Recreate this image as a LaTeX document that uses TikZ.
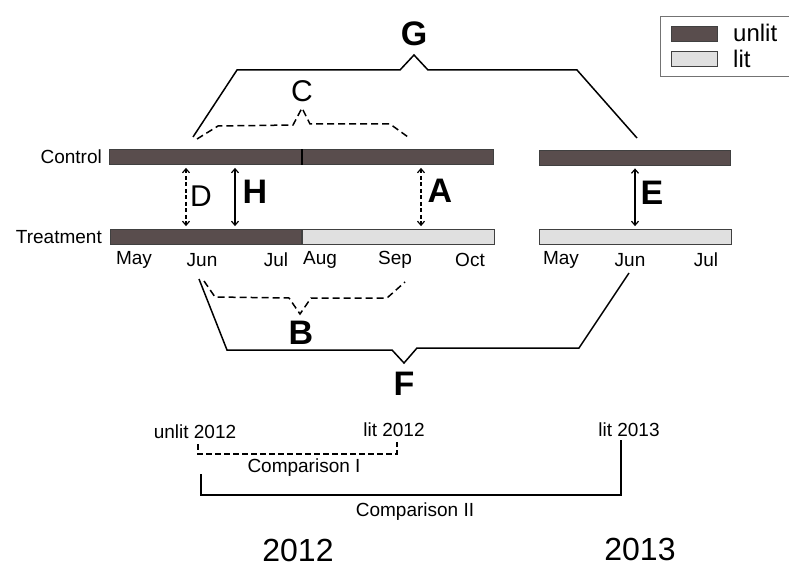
\documentclass[tikz,border=0pt]{standalone}
\usepackage{fontspec}
\setmainfont{Liberation Sans}
\usetikzlibrary{arrows.meta, positioning}
\definecolor{unlitbar}{RGB}{89,77,77}
\definecolor{litbar}{RGB}{224,224,224}

\begin{document}
\begin{tikzpicture}[x=1pt, y=-1pt,
      bar/.style={draw=black!75, line width=0.8pt, minimum height=15pt,
                  inner sep=0pt, anchor=west},
      unlit/.style={bar, fill=unlitbar},
      lit/.style={bar, fill=litbar},
      lbl/.style={font=\fontsize{19}{19}\selectfont, inner sep=0pt},
      mid/.style={font=\fontsize{30}{30}\selectfont, inner sep=0pt},
      big/.style={font=\fontsize{34}{34}\selectfont\bfseries, inner sep=0pt},
      brk/.style={line width=1.5pt},
      brkd/.style={brk, dash pattern=on 7pt off 4pt},
      gap/.style={<->, line width=1.2pt, shorten <=3pt, shorten >=3pt},
      cmp/.style={line width=2.2pt},
      >={Straight Barb[length=4pt,width=7pt]}]
    \useasboundingbox (0,0) rectangle (789,567);
    % bars, 2012 and 2013
    \node[unlit, minimum width=192pt] (ctrlA) at (109,157) {};
    \node[unlit, minimum width=191pt, right=0pt of ctrlA] (ctrlB) {};
    \node[unlit, minimum width=191pt] (ctrlC) at (539,157.5) {};
    \node[unlit, minimum width=191pt] (trtA) at (110,237) {};
    \node[lit, minimum width=192pt, right=0pt of trtA] (trtB) {};
    \node[lit, minimum width=192pt] (trtC) at (539,237) {};
    \draw[line width=1.6pt] (ctrlA.north east) -- (ctrlA.south east);
    \node[lbl, left=7pt of ctrlA] {Control};
    \node[lbl, left=8pt of trtA] {Treatment};
    \foreach \m/\x/\n in {May/134/a, Jun/202/b, Jul/276/c, Aug/320/d,
                          Sep/395/e, Oct/470/f, May/561/g, Jun/630/h, Jul/706/i}
      \node[lbl] (mon\n) at (\x,260) {\m};
    % gaps between control and treatment
    \coordinate (xD) at (186,0);
    \coordinate (xH) at (235,0);
    \coordinate (xA) at (421,0);
    \coordinate (xE) at (635,0);
    \draw[gap, dash pattern=on 4pt off 2.5pt] (ctrlA.south -| xD) -- (trtA.north -| xD);
    \draw[gap] (ctrlA.south -| xH) -- (trtA.north -| xH);
    \draw[gap, dash pattern=on 4pt off 2.5pt] (ctrlB.south -| xA) -- (trtB.north -| xA);
    \draw[gap] (ctrlC.south -| xE) -- (trtC.north -| xE);
    \node[mid] at (201,196) {D};
    \node[big] at (255,192) {H};
    \node[big] at (440,191) {A};
    \node[big] at (652,193) {E};
    % brackets
    \draw[brk] (193,137) -- (237,70) -- (400,70) -- (414,55) -- (428,70)
      -- (577,70) -- (637,138);
    \node[big] at (414,34) {G};
    \draw[brkd] (197,139) -- (218,126) -- (293,125) -- (302,108) -- (310,124)
      -- (390,124) -- (408,137);
    \node[mid] at (302,91) {C};
    \draw[brkd] (204,281) -- (215,297) -- (289,298) -- (300,314) -- (311,298)
      -- (387,298) -- (405,282);
    \node[big] at (301,333) {B};
    \draw[brk] (199,279) -- (227,350) -- (392,350) -- (404,363) -- (417,348)
      -- (579,348) -- (629,273);
    \node[big] at (404,384) {F};
    % comparisons
    \node[lbl] (ul12) at (195,432) {unlit 2012};
    \node[lbl] (l12) at (394,430) {lit 2012};
    \node[lbl] (l13) at (629,430) {lit 2013};
    \draw[cmp, dash pattern=on 6pt off 3pt]
      ([xshift=3pt, yshift=-5pt]ul12.south) -- ++(0,10)
      -| ([xshift=3pt, yshift=-5pt]l12.south);
    \node[lbl] (cmpI) at (304,468) {Comparison I};
    \draw[cmp] ([xshift=6pt, yshift=-35pt]ul12.south) -- ++(0,21)
      -| ([xshift=-8pt, yshift=-3pt]l13.south);
    \node[lbl] (cmpII) at (415,512) {Comparison II};
    \node[font=\fontsize{32}{32}\selectfont, inner sep=0pt] at (298,550) {2012};
    \node[font=\fontsize{32}{32}\selectfont, inner sep=0pt] at (640,549) {2013};
    % key
    \draw[black!55, line width=1pt] (789,17) -- (660,17) -- (660,77) -- (789,77);
    \node[unlit, minimum width=46pt] (keyU) at (671,33.5) {};
    \node[lit, minimum width=46pt] (keyL) at (671,59) {};
    \node[font=\fontsize{24}{24}\selectfont, inner sep=0pt, anchor=west]
      at (733,33) {unlit};
    \node[font=\fontsize{24}{24}\selectfont, inner sep=0pt, anchor=west]
      at (733,59) {lit};
\end{tikzpicture}
\end{document}
